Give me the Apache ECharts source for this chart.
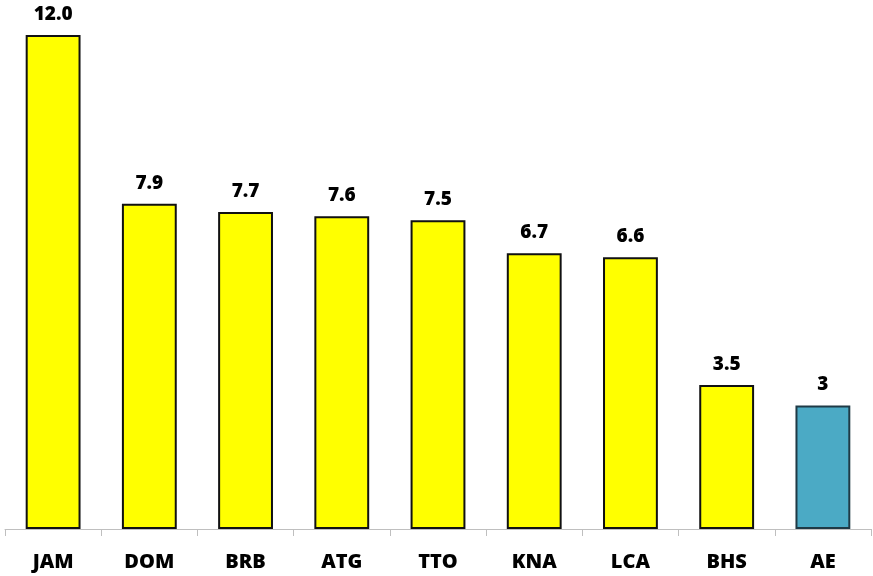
<!DOCTYPE html>
<html>
<head>
<meta charset="utf-8">
<script src="https://cdn.jsdelivr.net/npm/echarts@6/dist/echarts.min.js"></script>
<style>
  html, body { margin: 0; padding: 0; background: #fff; }
  #main { width: 873px; height: 576px; }
</style>
</head>
<body>
<div id="main"></div>
<script>
var categories = ['JAM', 'DOM', 'BRB', 'ATG', 'TTO', 'KNA', 'LCA', 'BHS', 'AE'];
var values = [12.0, 7.9, 7.7, 7.6, 7.5, 6.7, 6.6, 3.5, 3];
var valueLabels = ['12.0', '7.9', '7.7', '7.6', '7.5', '6.7', '6.6', '3.5', '3'];

var chart = echarts.init(document.getElementById('main'));

var barData = values.map(function (v, i) {
    var isAE = categories[i] === 'AE';
    return {
        value: v,
        itemStyle: {
            color: isAE ? '#4BAAC5' : '#FFFF00',
            borderColor: isAE ? '#1F3A46' : '#111111'
        }
    };
});

chart.setOption({
    animation: false,
    grid: { left: 5, right: 2, top: 35, bottom: 47 },
    xAxis: {
        type: 'category',
        data: categories,
        axisLine: { lineStyle: { color: '#BFBFBF', width: 1 } },
        axisTick: { show: true, alignWithLabel: false, length: 7, lineStyle: { color: '#BFBFBF' } },
        axisLabel: {
            margin: 23,
            color: '#000',
            fontFamily: 'Open Sans',
            fontWeight: 800,
            fontSize: 20
        }
    },
    yAxis: {
        type: 'value',
        min: 0,
        max: 12,
        show: false,
        splitLine: { show: false }
    },
    series: [{
        type: 'bar',
        data: barData,
        barCategoryGap: '43%',
        itemStyle: { borderWidth: 2 },
        label: {
            show: true,
            position: 'top',
            distance: 11,
            color: '#000',
            fontFamily: 'Open Sans',
            fontWeight: 800,
            fontSize: 19,
            formatter: function (p) { return valueLabels[p.dataIndex]; }
        }
    }]
});
</script>
</body>
</html>
